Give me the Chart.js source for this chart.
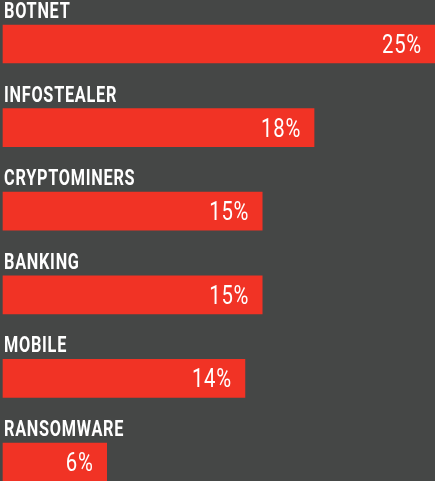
<!DOCTYPE html>
<html>
<head>
<meta charset="utf-8">
<script src="https://cdn.jsdelivr.net/npm/chart.js@4"></script>
<style>
  html, body { margin: 0; padding: 0; background: #454746; }
  #wrap { width: 435px; height: 481px; position: relative; }
</style>
</head>
<body>
<div id="wrap"><canvas id="malwareChart"></canvas></div>
<script>
const categories = ['BOTNET', 'INFOSTEALER', 'CRYPTOMINERS', 'BANKING', 'MOBILE', 'RANSOMWARE'];
const shares = [25, 18, 15, 15, 14, 6];
const valueLabels = ['25%', '18%', '15%', '15%', '14%', '6%'];

// condensed look: squeeze the text horizontally
const SQUEEZE = 0.74;

// draws the category name above each bar and the value inside its end
const barLabels = {
  id: 'barLabels',
  afterDatasetsDraw(chart) {
    const ctx = chart.ctx;
    const bars = chart.getDatasetMeta(0).data;
    ctx.save();
    ctx.fillStyle = '#ffffff';
    bars.forEach(function(bar, i) {
      const top = bar.y - bar.height / 2;

      ctx.save();
      ctx.translate(4, top - 7);
      ctx.scale(SQUEEZE, 1);
      ctx.font = 'bold 22px Roboto, sans-serif';
      ctx.letterSpacing = '1px';
      ctx.textAlign = 'left';
      ctx.textBaseline = 'alphabetic';
      ctx.fillText(categories[i], 0, 0);
      ctx.restore();

      ctx.save();
      ctx.translate(bar.x - 13, bar.y + 9);
      ctx.scale(0.78, 1);
      ctx.font = '26px Roboto, sans-serif';
      ctx.letterSpacing = '1px';
      ctx.textAlign = 'right';
      ctx.fillText(valueLabels[i], 0, 0);
      ctx.restore();
    });
    ctx.restore();
  }
};

new Chart(document.getElementById('malwareChart').getContext('2d'), {
  type: 'bar',
  data: {
    labels: categories,
    datasets: [{
      data: shares,
      backgroundColor: '#f13325',
      borderWidth: 0,
      barThickness: 38,
      clip: false
    }]
  },
  options: {
    indexAxis: 'y',
    responsive: true,
    maintainAspectRatio: false,
    animation: false,
    layout: { padding: { top: 44, bottom: 19, left: 3, right: 0 } },
    plugins: {
      legend: { display: false },
      tooltip: { enabled: false }
    },
    scales: {
      x: { display: false, min: 0, max: 25 },
      y: { display: false, offset: false }
    }
  },
  plugins: [barLabels]
});
</script>
</body>
</html>
